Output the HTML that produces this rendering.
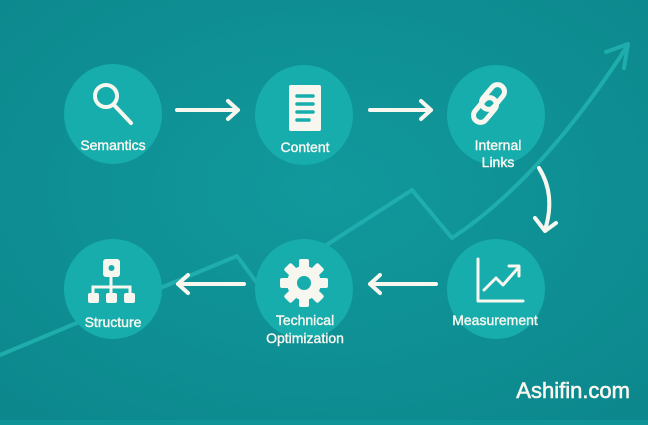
<!DOCTYPE html>
<html><head><meta charset="utf-8"><style>
html,body{margin:0;padding:0}
body{width:648px;height:420px;overflow:hidden;background:#0f9397;font-family:"Liberation Sans",sans-serif}
</style></head><body>
<svg width="648" height="420" viewBox="0 0 648 420" xmlns="http://www.w3.org/2000/svg">
<defs>
<radialGradient id="bg" cx="50%" cy="45%" r="70%">
<stop offset="0" stop-color="#11999c"/><stop offset="1" stop-color="#0c888d"/>
</radialGradient>
</defs>
<rect width="648" height="420" fill="url(#bg)"/>
<g fill="none" stroke="#22b3b0" stroke-width="4" stroke-linecap="round" stroke-linejoin="round" opacity="0.85">
<path d="M0,355 L237,256 L262,290 L300,262 L412,190 L452,238 Q540,180 626,48"/>
<path d="M606,52 L628,44 L624,68"/>
</g>
<g fill="#16adac">
<ellipse cx="113" cy="114" rx="49" ry="50"/>
<ellipse cx="304" cy="115" rx="49" ry="50"/>
<ellipse cx="496" cy="115" rx="49" ry="50"/>
<ellipse cx="113" cy="289" rx="49" ry="50"/>
<ellipse cx="304" cy="289" rx="49" ry="50"/>
<ellipse cx="496" cy="289" rx="49" ry="50"/>
</g>
<g fill="none" stroke="#f7f6ef" stroke-width="4" stroke-linecap="round" stroke-linejoin="round">
<path d="M177,110 H238 M228,101 L238,110 L228,119"/>
<path d="M370,110 H431 M421,101 L431,110 L421,119"/>
<path d="M244,284 H178 M188,275 L178,284 L188,293"/>
<path d="M436,284 H370 M380,275 L370,284 L380,293"/>
<path d="M539,168 Q556,195 545,230"/>
<path d="M535,218 L545,231 L556,223"/>
</g>
<g fill="none" stroke="#f7f6ef" stroke-width="4" stroke-linecap="round">
<circle cx="106" cy="96" r="11"/>
<path d="M114,105 L131,123"/>
</g>
<rect x="289" y="85" width="32" height="46" rx="2" fill="#f7f6ef"/>
<g stroke="#16adac" stroke-width="3.5" stroke-linecap="round">
<path d="M297,96 H313 M297,104 H313 M297,112 H313 M297,120 H309"/>
</g>
<g fill="none" stroke="#f7f6ef" stroke-width="5" stroke-linecap="round">
<rect x="486" y="83" width="14" height="28" rx="7" transform="rotate(40 493 97)"/>
<rect x="478" y="96" width="14" height="28" rx="7" transform="rotate(40 485 110)"/>
</g>
<rect x="103" y="259" width="17" height="18" rx="3" fill="#f7f6ef"/>
<circle cx="111.5" cy="268" r="3" fill="#16adac"/>
<g fill="none" stroke="#f7f6ef" stroke-width="3"><path d="M111,277 V287 M93,295 V287 H130 V295 M111,287 V295"/></g>
<rect x="88" y="293" width="11" height="10" rx="2" fill="#f7f6ef"/>
<rect x="106" y="293" width="11" height="10" rx="2" fill="#f7f6ef"/>
<rect x="124" y="293" width="11" height="10" rx="2" fill="#f7f6ef"/>
<g transform="translate(304,283)" fill="#f7f6ef">
<circle r="17"/>
<rect x="-5" y="-24" width="10" height="48" rx="2"/>
<rect x="-5" y="-24" width="10" height="48" rx="2" transform="rotate(45)"/>
<rect x="-5" y="-24" width="10" height="48" rx="2" transform="rotate(90)"/>
<rect x="-5" y="-24" width="10" height="48" rx="2" transform="rotate(135)"/>
<circle r="7" fill="#16adac"/>
</g>
<g fill="none" stroke="#f7f6ef" stroke-width="3" stroke-linecap="round" stroke-linejoin="round">
<path d="M478,259 V301 H523"/>
<path d="M484,290 L496,278 L503,285 L518,268 M509,266 L519,266 L519,276"/>
</g>
<g fill="#f7f6ef" stroke="#f7f6ef" stroke-width="0.4" font-family="Liberation Sans, sans-serif" font-size="14" text-anchor="middle">
<text x="113" y="150">Semantics</text>
<text x="305" y="152">Content</text>
<text x="498" y="150">Internal</text>
<text x="498" y="167">Links</text>
<text x="113" y="327">Structure</text>
<text x="305" y="325">Technical</text>
<text x="305" y="343">Optimization</text>
<text x="495" y="325">Measurement</text>
</g>
<text x="630" y="398" fill="#f7f6ef" stroke="#f7f6ef" stroke-width="0.6" font-family="Liberation Sans, sans-serif" font-size="22" text-anchor="end">Ashifin.com</text>
</svg>
</body></html>
